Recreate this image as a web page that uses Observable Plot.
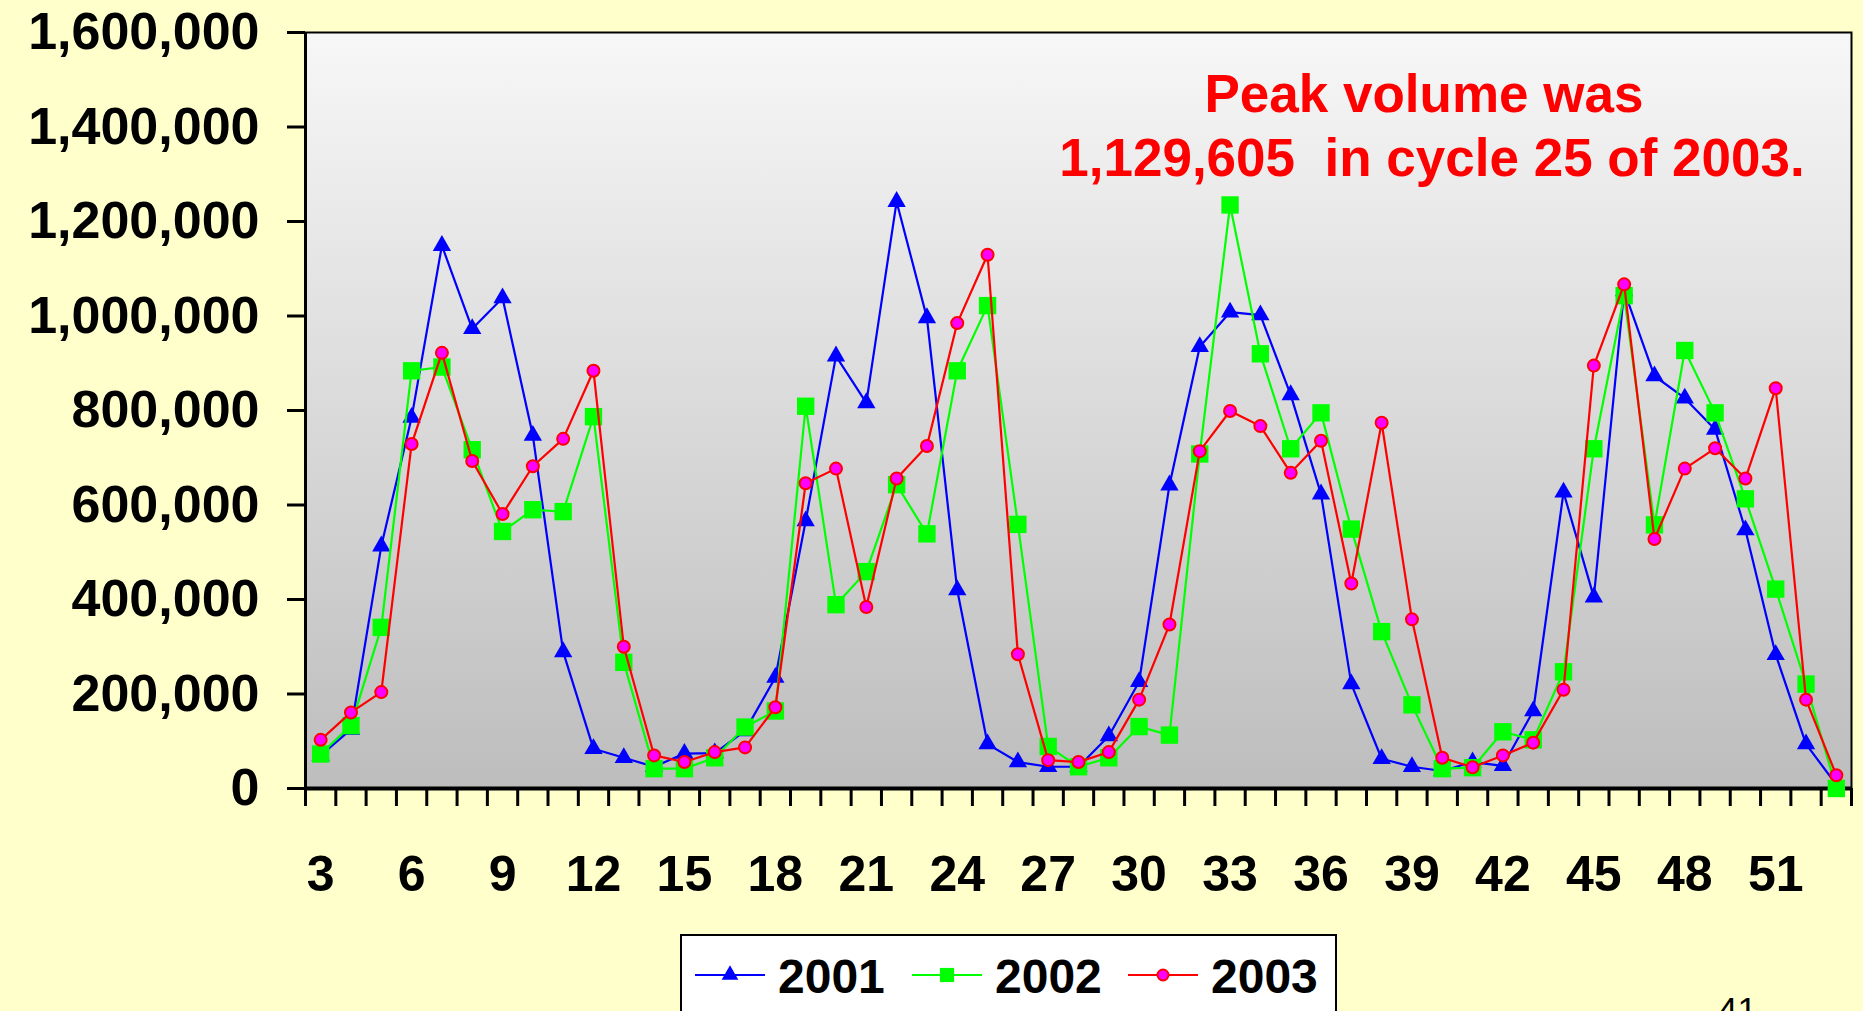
<!DOCTYPE html>
<html><head><meta charset="utf-8">
<script src="https://cdn.jsdelivr.net/npm/d3@7"></script>
<script src="https://cdn.jsdelivr.net/npm/@observablehq/plot@0.6"></script>
<style>
html,body{margin:0;padding:0;background:#FFFFCC;width:1863px;height:1011px;overflow:hidden;font-family:"Liberation Sans",Arial,sans-serif;}
#wrap{position:relative;width:1863px;height:1011px;}
#chart svg text{font-weight:bold;}
.note{position:absolute;color:#FF0000;font-weight:bold;font-size:53px;white-space:pre;transform:translateX(-50%);line-height:1;}
#legend{position:absolute;left:680px;top:934px;width:657px;height:100px;background:#fff;border:2px solid #000;box-sizing:border-box;}
#page{position:absolute;left:1718px;top:992px;font-size:35px;line-height:1;color:#000;}
</style></head>
<body>
<div id="wrap">
  <div id="chart"></div>
  <div class="note" style="left:1424px;top:67px;">Peak volume was</div>
  <div class="note" style="left:1432px;top:131px;">1,129,605  in cycle 25 of 2003.</div>
  <div id="legend"></div>
  <div id="page">41</div>
</div>
<script>
const cycles = [3,4,5,6,7,8,9,10,11,12,13,14,15,16,17,18,19,20,21,22,23,24,25,26,27,28,29,30,31,32,33,34,35,36,37,38,39,40,41,42,43,44,45,46,47,48,49,50,51,52,53];
// values in thousands
const v2001 = [70,125,513,785,1149,973,1038,747,289,84,65,46,74,75,122,235,566,915,816,1242,996,420,94,56,46,46,111,226,642,935,1008,1002,833,623,221,63,46,37,56,48,164,627,405,1053,873,826,760,547,283,94,8];
const v2002 = [73,133,341,884,892,717,544,590,586,787,267,42,42,65,130,164,809,389,459,643,539,884,1022,559,89,46,65,131,113,708,1235,920,719,795,549,332,177,42,44,120,103,247,719,1043,558,927,795,613,422,221,0];
const v2003 = [103,161,204,729,922,693,581,682,740,884,300,70,56,77,87,172,646,677,384,656,725,985,1129.605,284,60,56,77,188,347,714,799,767,668,736,434,774,358,65,45,70,97,209,895,1067,528,677,720,656,847,188,28];
const years = ["2001","2002","2003"];
const colors = ["#0000FF","#00FF00","#FF0000"];
const xTickLabels = [3,6,9,12,15,18,21,24,27,30,33,36,39,42,45,48,51];
const yTicks = [0,200000,400000,600000,800000,1000000,1200000,1400000,1600000];

const toRows = (vals) => cycles.map((c,i) => ({cycle:c, value: vals[i]*1000}));
const d2001 = toRows(v2001), d2002 = toRows(v2002), d2003 = toRows(v2003);
const xDomain = [cycles[0]-0.5, cycles[cycles.length-1]+0.5];
const boundaries = cycles.map(c => c-0.5).concat([xDomain[1]]);
const sizes = [6.8, 9.8, 6];

const chart = Plot.plot({
  width: 1863, height: 920,
  marginLeft: 305, marginRight: 12, marginTop: 32, marginBottom: 132,
  style: {background: "transparent", fontFamily: "Liberation Sans, Arial, sans-serif", overflow: "visible", color: "#000"},
  x: {type: "linear", domain: xDomain},
  y: {domain: [0, 1600000]},
  marks: [
    Plot.frame({fill: "url(#plotbg)", stroke: "#000", strokeWidth: 2}),
    Plot.axisY(yTicks, {tickSize: 18, tickPadding: 28, tickFormat: d3.format(","), fontSize: 52, fontWeight: "bold", strokeWidth: 3, label: null}),
    Plot.axisX(boundaries, {tickSize: 18, strokeWidth: 3, tickFormat: () => "", label: null}),
    Plot.axisX(xTickLabels, {tickSize: 0, tickPadding: 67, fontSize: 50, fontWeight: "bold", label: null}),
    Plot.ruleY([0], {stroke: "#000", strokeWidth: 4}),
    Plot.ruleX([xDomain[0]], {stroke: "#000", strokeWidth: 3}),
    Plot.line(d2001, {x: "cycle", y: "value", stroke: colors[0], strokeWidth: 2.2}),
    Plot.dot(d2001, {x: "cycle", y: "value", symbol: "triangle", fill: colors[0], r: sizes[0]}),
    Plot.line(d2002, {x: "cycle", y: "value", stroke: colors[1], strokeWidth: 2.2}),
    Plot.dot(d2002, {x: "cycle", y: "value", symbol: "square", fill: colors[1], r: sizes[1]}),
    Plot.line(d2003, {x: "cycle", y: "value", stroke: colors[2], strokeWidth: 2.2}),
    Plot.dot(d2003, {x: "cycle", y: "value", symbol: "circle", fill: "#FF00FF", stroke: "#FF0000", strokeWidth: 2, r: sizes[2]})
  ]
});
const svg = d3.select(chart);
const grad = svg.insert("defs", ":first-child").append("linearGradient")
  .attr("id", "plotbg").attr("x1", 0).attr("y1", 0).attr("x2", 0).attr("y2", 1);
grad.append("stop").attr("offset", "0%").attr("stop-color", "#F7F7F7");
grad.append("stop").attr("offset", "100%").attr("stop-color", "#BDBDBD");
document.getElementById("chart").appendChild(chart);

// legend
const lsvg = d3.select("#legend").append("svg").attr("width", 653).attr("height", 96);
const symbols = [d3.symbolTriangle, d3.symbolSquare, d3.symbolCircle];
const legendSizes = [6.2, 8, 5.5];
const lineStarts = [13, 230, 446];
years.forEach((yr, i) => {
  const x0 = lineStarts[i];
  lsvg.append("line").attr("x1", x0).attr("x2", x0+70).attr("y1", 39).attr("y2", 39)
    .attr("stroke", colors[i]).attr("stroke-width", 2.2);
  lsvg.append("path").attr("d", d3.symbol(symbols[i], Math.PI*legendSizes[i]*legendSizes[i])())
    .attr("transform", `translate(${x0+35},39)`)
    .attr("fill", i === 2 ? "#FF00FF" : colors[i])
    .attr("stroke", i === 2 ? "#FF0000" : "none").attr("stroke-width", 2);
  lsvg.append("text").attr("x", x0+83).attr("y", 57).text(yr)
    .attr("font-size", 48).attr("font-weight", "bold")
    .attr("font-family", "Liberation Sans, Arial, sans-serif");
});
</script>
</body></html>
